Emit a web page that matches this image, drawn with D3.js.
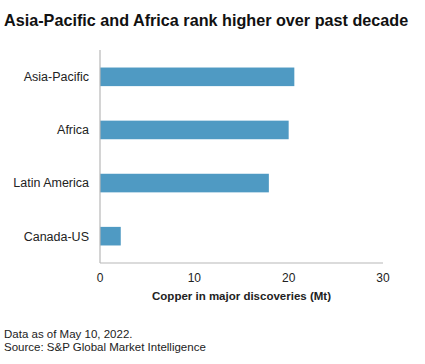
<!DOCTYPE html>
<html>
<head>
<meta charset="utf-8">
<script src="https://cdn.jsdelivr.net/npm/d3@7"></script>
<style>
  body { margin: 0; background: #fff; }
  svg { display: block; font-family: "Liberation Sans", Arial, sans-serif; }
</style>
</head>
<body>
<div id="chart"></div>
<script>
// Chart data
const regions = ['Asia-Pacific', 'Africa', 'Latin America', 'Canada-US'];
const copperMt = [20.6, 20.0, 17.9, 2.2];
const xTicks = [0, 10, 20, 30];

const width = 425, height = 364;
const margin = { top: 50, left: 100, right: 42, bottom: 101 };

const svg = d3.select('#chart').append('svg')
  .attr('width', width)
  .attr('height', height);

// Title
svg.append('text')
  .attr('x', 4)
  .attr('y', 26)
  .attr('font-size', '16.2px')
  .attr('font-weight', 'bold')
  .attr('fill', '#111')
  .text('Asia-Pacific and Africa rank higher over past decade');

const x = d3.scaleLinear()
  .domain([0, 30])
  .range([margin.left, width - margin.right]);

const y = d3.scaleBand()
  .domain(regions)
  .range([margin.top, height - margin.bottom])
  .paddingInner(0.65)
  .paddingOuter(0.33);

const data = regions.map((r, i) => ({ region: r, value: copperMt[i] }));

// Bars
svg.append('g')
  .selectAll('rect')
  .data(data)
  .enter()
  .append('rect')
  .attr('x', x(0))
  .attr('y', d => y(d.region))
  .attr('width', d => x(d.value) - x(0))
  .attr('height', y.bandwidth())
  .attr('fill', '#4f9ac3');

// Axis lines
const axisColor = '#b8b8b8';
svg.append('line')
  .attr('x1', x(0)).attr('x2', x(0))
  .attr('y1', margin.top).attr('y2', height - margin.bottom)
  .attr('stroke', axisColor)
  .attr('stroke-width', 1.2);

svg.append('line')
  .attr('x1', x(0)).attr('x2', x(30))
  .attr('y1', height - margin.bottom).attr('y2', height - margin.bottom)
  .attr('stroke', axisColor)
  .attr('stroke-width', 1.2);

// Category labels
svg.append('g')
  .selectAll('text')
  .data(regions)
  .enter()
  .append('text')
  .attr('x', 89)
  .attr('y', d => y(d) + y.bandwidth() / 2)
  .attr('dy', '0.35em')
  .attr('text-anchor', 'end')
  .attr('font-size', '12.5px')
  .attr('fill', '#222')
  .text(d => d);

// X tick labels
svg.append('g')
  .selectAll('text')
  .data(xTicks)
  .enter()
  .append('text')
  .attr('x', d => x(d))
  .attr('y', 278)
  .attr('dy', '0.35em')
  .attr('text-anchor', 'middle')
  .attr('font-size', '12px')
  .attr('fill', '#222')
  .text(d => d);

// X axis title
svg.append('text')
  .attr('x', (x(0) + x(30)) / 2)
  .attr('y', 296)
  .attr('dy', '0.35em')
  .attr('text-anchor', 'middle')
  .attr('font-size', '11.5px')
  .attr('font-weight', 'bold')
  .attr('fill', '#222')
  .text('Copper in major discoveries (Mt)');

// Footnotes
svg.append('text')
  .attr('x', 4)
  .attr('y', 334)
  .attr('dy', '0.35em')
  .attr('font-size', '11.5px')
  .attr('fill', '#222')
  .text('Data as of May 10, 2022.');

svg.append('text')
  .attr('x', 4)
  .attr('y', 347)
  .attr('dy', '0.35em')
  .attr('font-size', '11.5px')
  .attr('fill', '#222')
  .text('Source: S&P Global Market Intelligence');
</script>
</body>
</html>
